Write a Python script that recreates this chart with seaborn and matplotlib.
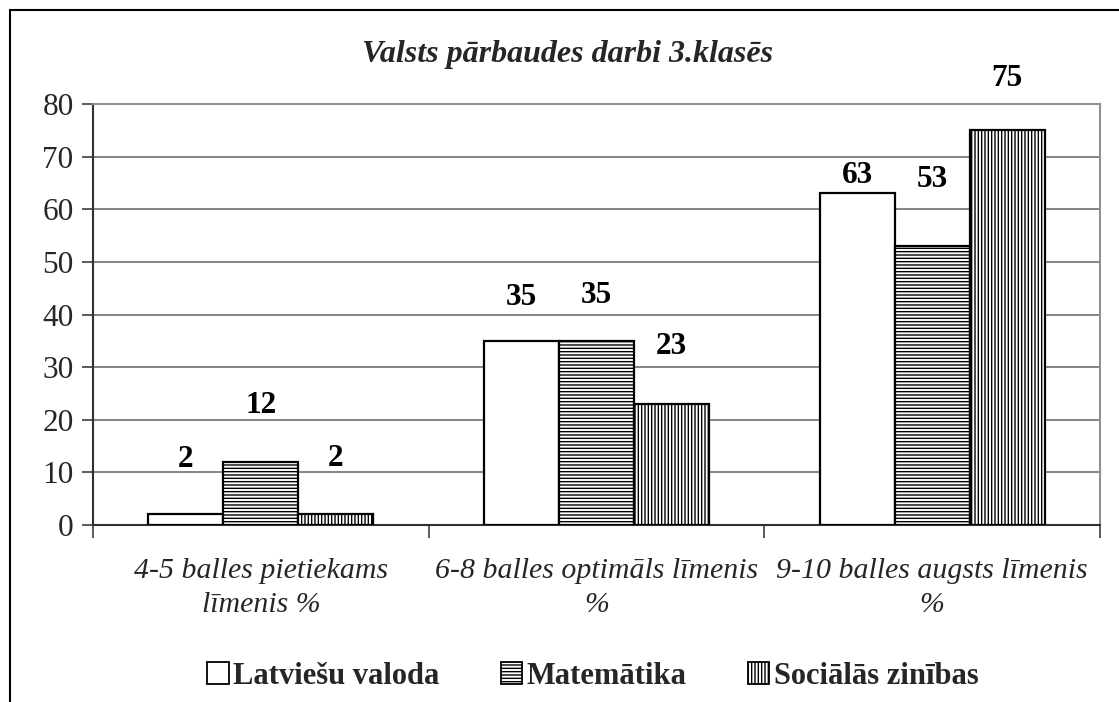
import matplotlib
matplotlib.use("Agg")
import matplotlib.pyplot as plt
import seaborn as sns
import pandas as pd
from matplotlib.patches import Patch
from matplotlib.lines import Line2D

categories = ["4-5 balles pietiekams\nlīmenis %", "6-8 balles optimāls līmenis\n%", "9-10 balles augsts līmenis\n%"]
series_names = ["Latviešu valoda", "Matemātika", "Sociālās zinības"]
latv = [2, 35, 63]
mat = [12, 35, 53]
soc = [2, 23, 75]
title = "Valsts pārbaudes darbi 3.klasēs"
yticks = [0, 10, 20, 30, 40, 50, 60, 70, 80]

# label offsets above bar tops (pixels), per series per category (styling only)
label_offsets_px = [[55, 43, 18], [56, 45, 67], [56, 57, 52]]

sns.set_theme(style="white")
plt.rcParams['font.family'] = ['Liberation Serif', 'DejaVu Serif']
plt.rcParams['hatch.linewidth'] = 1.0

rows = []
for name, vals in zip(series_names, [latv, mat, soc]):
    for c, v in zip(categories, vals):
        rows.append({"cat": c, "series": name, "val": v})
df = pd.DataFrame(rows)

fig = plt.figure(figsize=(11.19, 7.02), dpi=100)
ax = fig.add_axes([93/1119, 1-525/702, (1100-93)/1119, (525-104)/702])

sns.barplot(data=df, x="cat", y="val", hue="series", order=categories, hue_order=series_names,
            palette=["white", "white", "white"], width=0.67, dodge=True, gap=0,
            edgecolor="black", linewidth=1.6, ax=ax, legend=False, saturation=1)

hatches = [None, "-----", "|||||"]
for si, (cont, h) in enumerate(zip(ax.containers, hatches)):
    for ci, bar in enumerate(cont):
        if h:
            bar.set_hatch(h)
        bar.set_zorder(3)
        v = bar.get_height()
        ax.annotate(f"{int(v)}", (bar.get_x() + bar.get_width()/2, v),
                    xytext=(0, label_offsets_px[si][ci] * 0.72),
                    textcoords="offset points", ha="center", va="center",
                    fontsize=22.5, fontweight="bold", color="black")

ax.set_ylim(0, 80)
ax.set_xlim(-0.5, 2.5)
ax.set_yticks(yticks)
ax.set_yticklabels([str(v) for v in yticks], fontsize=22.5)
ax.yaxis.grid(True, color="#707070", linewidth=1.2, zorder=0)
ax.set_axisbelow(True)
ax.tick_params(axis="y", length=8, width=1.2, color="#404040", direction="out", left=True, pad=6)
ax.set_xticks([0, 1, 2])
ax.set_xticklabels(categories, fontsize=21.5, fontstyle="italic", linespacing=1.4)
ax.tick_params(axis="x", which="major", length=0, pad=24)
ax.set_xticks([-0.5, 0.5, 1.5, 2.5], minor=True)
ax.tick_params(axis="x", which="minor", length=9, width=1.2, color="#404040", direction="out", bottom=True)
ax.set_xlabel("")
ax.set_ylabel("")

for s in ["left", "bottom"]:
    ax.spines[s].set_color("#303030")
    ax.spines[s].set_linewidth(1.5)
for s in ["top", "right"]:
    ax.spines[s].set_color("#909090")
    ax.spines[s].set_linewidth(1.5)

fig.text(568/1119, 1-62/702, title, ha="center", va="baseline", fontsize=23,
         fontstyle="italic", fontweight="bold")

handles = [Patch(facecolor="white", edgecolor="black", hatch=h if h else "", linewidth=1.3, label=n)
           for h, n in zip(hatches, series_names)]
leg = fig.legend(handles=handles, loc="center", bbox_to_anchor=(593/1119, 1-676/702), ncol=3,
                 frameon=False, prop={"size": 22, "weight": "bold"}, handlelength=0.7,
                 handleheight=0.7, handletextpad=0.15, columnspacing=2.0)

fig.add_artist(Line2D([10/1119, 10/1119], [0, 1-10/702], color="black", linewidth=1.5,
                      transform=fig.transFigure))
fig.add_artist(Line2D([10/1119, 1], [1-10/702, 1-10/702], color="black", linewidth=1.5,
                      transform=fig.transFigure))

fig.savefig("out.png", dpi=100, facecolor="white")
